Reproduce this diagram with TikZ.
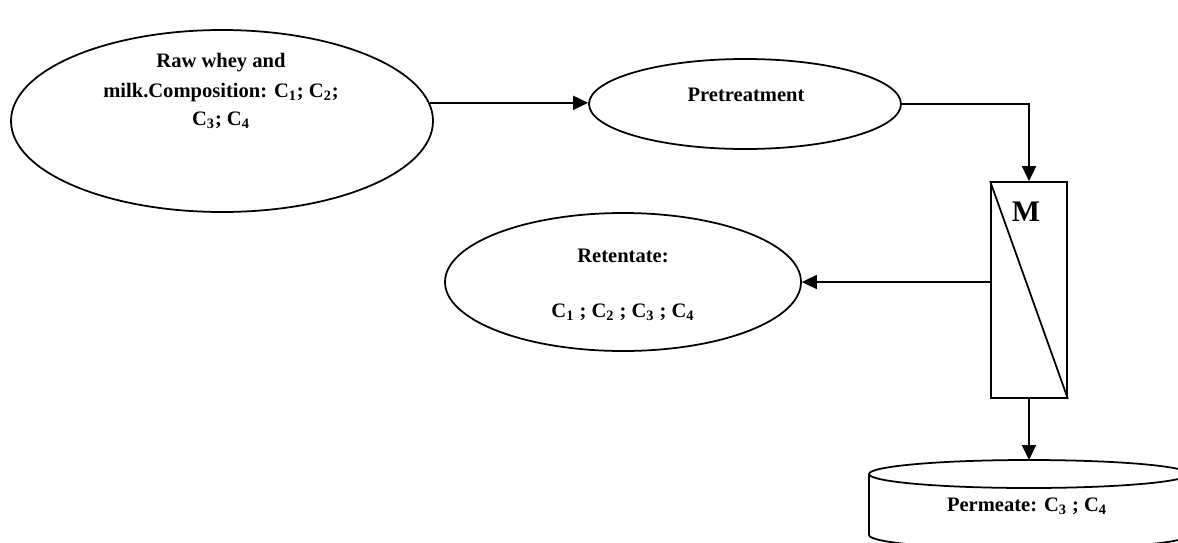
\documentclass[tikz,border=0pt]{standalone}
\usepackage{fontspec}
\setmainfont{Liberation Serif}
\usepackage{tikz}
\usetikzlibrary{arrows.meta,calc,positioning,shapes.geometric}

\tikzset{
	ell/.style={draw, ellipse, line width=1pt, inner sep=0pt},
	txt/.style={font=\fontsize{11.7}{14}\selectfont\bfseries, align=center, inner sep=0pt},
	arr/.style={line width=1pt, -{Triangle[length=0.3cm, width=0.28cm]}},
}

\begin{document}
\begin{tikzpicture}
	\useasboundingbox (0,0) rectangle (23.56,10.84);
% feed, pretreatment
\node[ell, minimum width=8.44cm, minimum height=3.64cm] (raw) at (4.44, 8.42) {};
\node[txt] (rawtxt) at (4.42, 9.02) {Raw whey and\\[3pt] milk.Composition: C\textsubscript{1}; C\textsubscript{2};\\[1.5pt] C\textsubscript{3}; C\textsubscript{4}};
\node[ell, minimum width=6.24cm, minimum height=1.8cm] (pre) at (14.9, 8.76) {};
\node[txt] (pretxt) at (14.92, 8.94) {Pretreatment};
% membrane module
\node[draw, line width=1pt, minimum width=1.52cm, minimum height=4.32cm, inner sep=0pt] (mem) at (20.58, 5.04) {};
\draw[line width=1pt] (mem.north west) -- (mem.south east);
\node[font=\fontsize{17}{20}\selectfont\bfseries, inner sep=0pt] (m) at (20.52, 6.6) {M};
% retentate
\node[ell, minimum width=7.12cm, minimum height=2.76cm] (ret) at (12.46, 5.2) {};
\node[txt] (rettxt) at (12.46, 5.14) {Retentate:\\[17pt] C\textsubscript{1} ; C\textsubscript{2} ; C\textsubscript{3} ; C\textsubscript{4}};
% permeate tank
\draw[line width=1pt] (17.38, 1.36) -- (17.38, 0.14) arc[start angle=180, end angle=360, x radius=3.2, y radius=0.28] -- (23.78, 1.36);
\draw[line width=1pt] (20.58, 1.36) ellipse[x radius=3.2, y radius=0.28];
\coordinate (permtop) at (20.58, 1.64);
\node[txt] (perm) at (20.54, 0.72) {Permeate: C\textsubscript{3} ; C\textsubscript{4}};
% connectors
\draw[arr] (raw.5) -- (raw.5 -| pre.west);
\draw[arr] (pre.east) -| (mem.north);
\draw[arr] (mem.west |- ret.east) -- (ret.east);
\draw[arr] (mem.south) -- (permtop);
\end{tikzpicture}
\end{document}
